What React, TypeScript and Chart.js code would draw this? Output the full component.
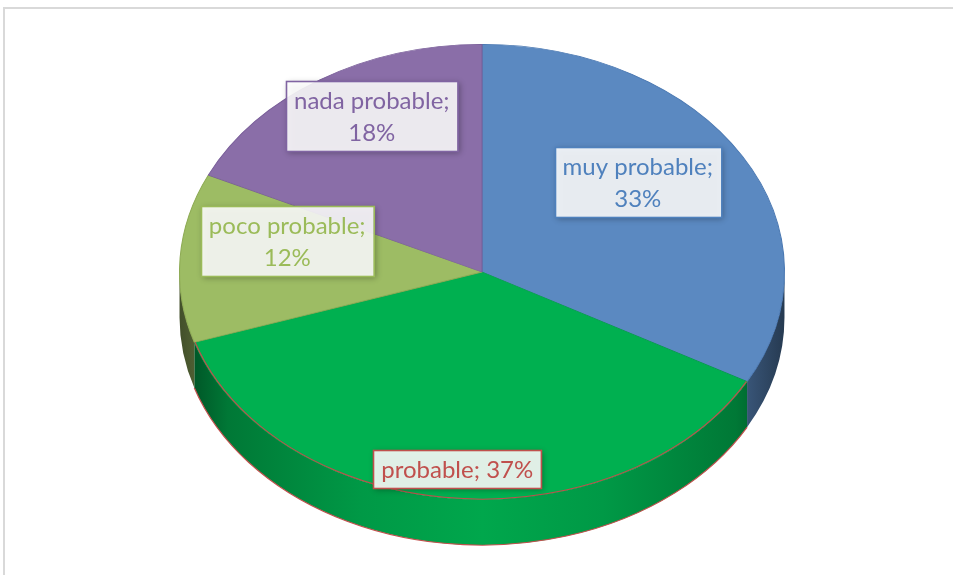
import React, { useEffect, useRef } from 'react';
import { Chart, registerables } from 'chart.js';

Chart.register(...registerables);

// ---- data ----
const categories = ['muy probable', 'probable', 'poco probable', 'nada probable'];
const percentValues = [33, 37, 12, 18];

// ---- styles ----
const sliceColors = ['#5b89c1', '#00b050', '#9dbc64', '#8a6ea8'];
const sliceBorders = ['#4a78b2', '#00a048', '#8eab55', '#7a5f9a'];
const labelColors = ['#4f81bd', '#c0504d', '#9bbb59', '#8064a2'];
// label placement: fraction of radius, angle nudge (deg, clockwise)
const labelRadiusFrac = [0.65, 0.87, 0.658, 0.776];
const labelAngleNudge = [-7, 0, 8.3, 4.4];
const SX = 1.329; // horizontal stretch of the tilted pie
const DEPTH_RATIO = 0.2; // side wall height relative to radius
const FONT = '24px Lato';
const LINE_H = 32;
const MAX_LINE_W = 175;

function hexToRgb(h: string) {
  const n = parseInt(h.slice(1), 16);
  return [(n >> 16) & 255, (n >> 8) & 255, n & 255];
}
function shade(h: string, f: number) {
  const [r, g, b] = hexToRgb(h);
  return `rgb(${Math.round(r * f)},${Math.round(g * f)},${Math.round(b * f)})`;
}

const pie3d = {
  id: 'pie3d',
  beforeDatasetsDraw(chart: any) {
    const ctx: CanvasRenderingContext2D = chart.ctx;
    const arcs = chart.getDatasetMeta(0).data;
    if (!arcs.length) return;
    const { x: cx, y: cy, outerRadius: R } = arcs[0];
    const depth = R * DEPTH_RATIO;
    ctx.save();
    ctx.translate(cx, cy);
    ctx.scale(SX, 1);
    ctx.translate(-cx, -cy);
    arcs.forEach((el: any, i: number) => {
      const s = el.startAngle;
      const e = el.endAngle;
      for (const k of [0, 2 * Math.PI]) {
        const lo = Math.max(s, k);
        const hi = Math.min(e, k + Math.PI);
        if (lo >= hi) continue;
        const col = sliceColors[i];
        const g = ctx.createLinearGradient(cx - R, 0, cx + R, 0);
        g.addColorStop(0, shade(col, 0.42));
        g.addColorStop(0.08, shade(col, 0.68));
        g.addColorStop(0.3, shade(col, 0.87));
        g.addColorStop(0.5, shade(col, 0.95));
        g.addColorStop(0.7, shade(col, 0.87));
        g.addColorStop(0.92, shade(col, 0.68));
        g.addColorStop(1, shade(col, 0.42));
        ctx.beginPath();
        ctx.arc(cx, cy, R, lo, hi);
        ctx.lineTo(cx + R * Math.cos(hi), cy + depth + R * Math.sin(hi));
        ctx.arc(cx, cy + depth, R, hi, lo, true);
        ctx.closePath();
        ctx.fillStyle = g;
        ctx.fill();
        if (i === 1) {
          ctx.beginPath();
          ctx.arc(cx, cy + depth, R, lo, hi);
          ctx.strokeStyle = '#c0504d';
          ctx.lineWidth = 1;
          ctx.stroke();
        }
      }
    });
    ctx.restore();
    ctx.save();
    ctx.translate(cx, cy);
    ctx.scale(SX, 1);
    ctx.translate(-cx, -cy);
  },
  afterDatasetsDraw(chart: any) {
    const ctx: CanvasRenderingContext2D = chart.ctx;
    const arcs = chart.getDatasetMeta(0).data;
    if (!arcs.length) return;
    ctx.restore();
    const { x: cx, y: cy, outerRadius: R } = arcs[0];
    // red front edge of the green slice top face
    ctx.save();
    ctx.translate(cx, cy);
    ctx.scale(SX, 1);
    ctx.translate(-cx, -cy);
    const g = arcs[1];
    ctx.beginPath();
    ctx.arc(cx, cy, R - 0.5, Math.max(0, g.startAngle), Math.min(Math.PI, g.endAngle));
    ctx.strokeStyle = '#c0504d';
    ctx.lineWidth = 1;
    ctx.stroke();
    ctx.restore();

    // labels
    ctx.save();
    ctx.font = FONT;
    ctx.textAlign = 'center';
    ctx.textBaseline = 'middle';
    arcs.forEach((el: any, i: number) => {
      const mid = (el.startAngle + el.endAngle) / 2 + (labelAngleNudge[i] * Math.PI) / 180;
      const r = R * labelRadiusFrac[i];
      const lx = cx + SX * r * Math.cos(mid);
      const ly = cy + r * Math.sin(mid);
      const full = `${categories[i]}; ${percentValues[i]}%`;
      const lines = ctx.measureText(full).width > MAX_LINE_W
        ? [`${categories[i]};`, `${percentValues[i]}%`]
        : [full];
      const w = Math.max(...lines.map((l) => ctx.measureText(l).width)) + 16;
      const h = lines.length * LINE_H + 6;
      const bx = Math.round(lx - w / 2);
      const by = Math.round(ly - h / 2);
      ctx.save();
      ctx.shadowColor = 'rgba(0,0,0,0.35)';
      ctx.shadowBlur = 6;
      ctx.shadowOffsetX = 2;
      ctx.shadowOffsetY = 2;
      ctx.fillStyle = 'rgba(255,255,255,0.88)';
      ctx.fillRect(bx, by, w, h);
      ctx.restore();
      ctx.strokeStyle = labelColors[i];
      ctx.lineWidth = 1.6;
      ctx.strokeRect(bx + 0.5, by + 0.5, w, h);
      ctx.fillStyle = labelColors[i];
      lines.forEach((l, j) => {
        ctx.fillText(l, lx, by + 3 + LINE_H * (j + 0.5) + 1);
      });
    });
    ctx.restore();
  },
};

export default function App() {
  const ref = useRef<HTMLCanvasElement>(null);
  useEffect(() => {
    if (!ref.current) return;
    const chart = new Chart(ref.current, {
      type: 'pie',
      data: {
        labels: categories,
        datasets: [
          {
            data: percentValues,
            backgroundColor: sliceColors,
            borderColor: sliceBorders,
            borderWidth: 0.8,
            hoverOffset: 0,
            clip: false as any,
          },
        ],
      },
      options: {
        animation: false,
        responsive: false,
        devicePixelRatio: 1,
        events: [],
        layout: { padding: { left: 100, right: 89, top: 44, bottom: 75 } },
        plugins: { legend: { display: false }, tooltip: { enabled: false } },
      },
      plugins: [pie3d],
    });
    return () => chart.destroy();
  }, []);
  return (
    <div style={{ position: 'absolute', left: 0, top: 0, width: 953, height: 575, overflow: 'hidden', background: '#fff' }}>
      <div
        style={{
          position: 'absolute',
          left: 3,
          top: 7,
          width: 1000,
          height: 700,
          borderTop: '2px solid #d9d9d9',
          borderLeft: '2px solid #d9d9d9',
        }}
      />
      <canvas ref={ref} width={953} height={575} style={{ position: 'absolute', left: 0, top: 0, width: 953, height: 575 }} />
    </div>
  );
}
